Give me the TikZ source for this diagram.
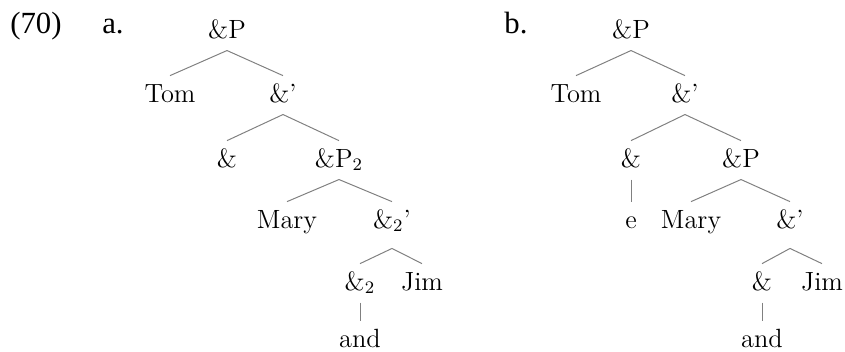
\documentclass[tikz,border=0pt]{standalone}
\usepackage{fontspec}
\newfontfamily\exfont{Liberation Serif}[Ligatures=TeX]
\tikzset{
  exlabel/.style={anchor=base, inner sep=0pt, font=\fontsize{14}{16}\exfont},
  word/.style={anchor=base, inner sep=3pt, text height=8.8pt, text depth=2.5pt,
               font=\fontsize{12}{14}\selectfont},
  deep/.style={text depth=6.1pt},
  branch/.style={draw=black!50, line width=0.45pt}
}
\begin{document}
\begin{tikzpicture}[x=0.455pt, y=-0.455pt]
  \useasboundingbox (0,0) rectangle (845,351);
  % example number and labels
  \node[exlabel] (num) at (36,33) {(70)};
  \node[exlabel] (la) at (113,33) {a.};
  \node[exlabel] (lb) at (516,33) {b.};

  % tree a
  \node[word] (aP)    at (227,38)  {\&P};
  \node[word] (aTom)  at (170,102) {Tom};
  \node[word] (aBar)  at (283,102) {\&'};
  \node[word] (aAnd)  at (227,167) {\&};
  \node[word] (aPtwo) at (339,167) {\&P$_2$};
  \node[word] (aMary) at (287,228) {Mary};
  \node[word,deep] (aBartwo) at (392,228) {\&$_2$'};
  \node[word] (aAndtwo) at (360,290) {\&$_2$};
  \node[word] (aJim)  at (422,290) {Jim};
  \node[word] (aand)  at (360,347) {and};
  \draw[branch] (aP.south) -- (aTom.north);
  \draw[branch] (aP.south) -- (aBar.north);
  \draw[branch] (aBar.south) -- (aAnd.north);
  \draw[branch] (aBar.south) -- (aPtwo.north);
  \draw[branch] (aPtwo.south) -- (aMary.north);
  \draw[branch] (aPtwo.south) -- (aBartwo.north);
  \draw[branch] (aBartwo.south) -- (aAndtwo.north);
  \draw[branch] (aBartwo.south) -- (aJim.north);
  \draw[branch] (aAndtwo.south) -- (aand.north);

  % tree b
  \node[word] (bP)    at (631,38)  {\&P};
  \node[word] (bTom)  at (576,102) {Tom};
  \node[word] (bBar)  at (685,102) {\&'};
  \node[word] (bAnd)  at (631,167) {\&};
  \node[word] (bPP)   at (741,167) {\&P};
  \node[word] (be)    at (631,228) {e};
  \node[word] (bMary) at (691,228) {Mary};
  \node[word,deep] (bBartwo) at (790,228) {\&'};
  \node[word] (bAndtwo) at (762,290) {\&};
  \node[word] (bJim)  at (822,290) {Jim};
  \node[word] (band)  at (762,347) {and};
  \draw[branch] (bP.south) -- (bTom.north);
  \draw[branch] (bP.south) -- (bBar.north);
  \draw[branch] (bBar.south) -- (bAnd.north);
  \draw[branch] (bBar.south) -- (bPP.north);
  \draw[branch] (bAnd.south) -- (be.north);
  \draw[branch] (bPP.south) -- (bMary.north);
  \draw[branch] (bPP.south) -- (bBartwo.north);
  \draw[branch] (bBartwo.south) -- (bAndtwo.north);
  \draw[branch] (bBartwo.south) -- (bJim.north);
  \draw[branch] (bAndtwo.south) -- (band.north);
\end{tikzpicture}
\end{document}
